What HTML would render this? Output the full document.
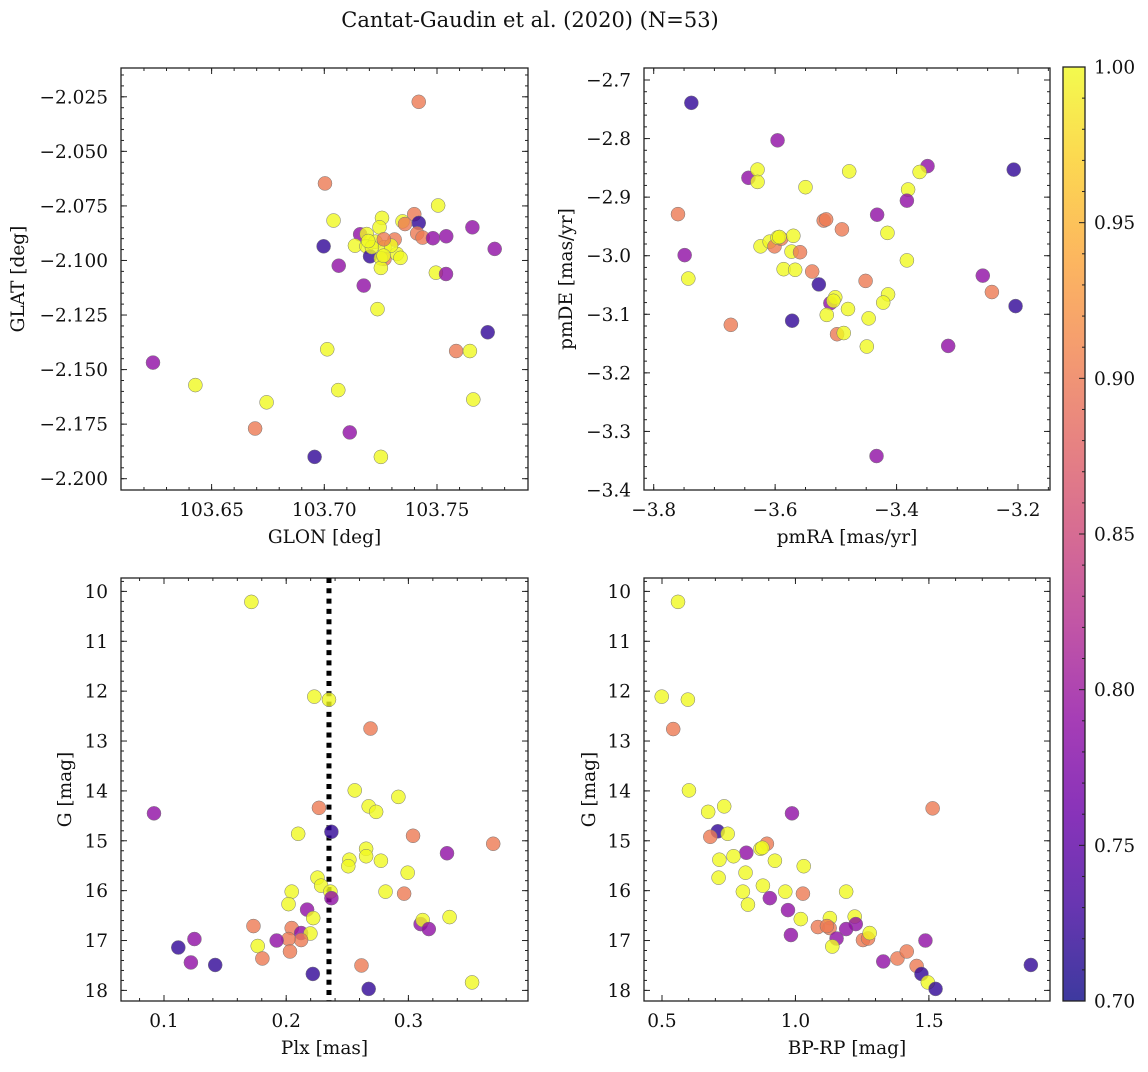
<!DOCTYPE html>
<html><head><meta charset="utf-8"><style>
html,body{margin:0;padding:0;background:#fff;}
svg text{font-family:"DejaVu Serif","Liberation Serif",serif;fill:#111;}
</style></head><body>
<svg id="fig" width="1148" height="1067" xmlns="http://www.w3.org/2000/svg">
<defs>
<linearGradient id="plasma" x1="0" y1="1" x2="0" y2="0">
<stop offset="0" stop-color="#0d0887"/><stop offset="0.1" stop-color="#41049d"/><stop offset="0.2" stop-color="#6a00a8"/><stop offset="0.3" stop-color="#8f0da4"/><stop offset="0.4" stop-color="#b12a90"/><stop offset="0.5" stop-color="#cc4778"/><stop offset="0.6" stop-color="#e16462"/><stop offset="0.7" stop-color="#f2844b"/><stop offset="0.8" stop-color="#fca636"/><stop offset="0.9" stop-color="#fcce25"/><stop offset="1" stop-color="#f0f921"/>
</linearGradient>
</defs>
<text x="530" y="27" font-size="21" text-anchor="middle">Cantat-Gaudin et al. (2020) (N=53)</text>
</svg>
<script>
// ---- data ----
const p1Lon=[103.7419,103.7003,103.7505,103.7041,103.7256,103.7245,103.7399,103.7419,103.7347,103.7358,103.7159,103.7188,103.7312,103.7412,103.7436,103.7482,103.7541,103.7657,103.7756,103.6997,103.7136,103.7187,103.7227,103.7267,103.7203,103.7267,103.7251,103.7251,103.7322,103.7338,103.7064,103.7175,103.7495,103.7540,103.7236,103.7725,103.7585,103.7646,103.7013,103.6240,103.6428,103.7062,103.6744,103.7661,103.6693,103.7113,103.6957,103.7251,103.7211,103.7296,103.7195,103.7263,103.7264];
const p1Lat=[-2.0273,-2.0647,-2.0748,-2.0817,-2.0805,-2.0848,-2.0788,-2.0828,-2.0821,-2.0833,-2.0880,-2.0879,-2.0904,-2.0876,-2.0895,-2.0898,-2.0889,-2.0848,-2.0947,-2.0935,-2.0932,-2.0935,-2.0914,-2.0939,-2.0981,-2.0993,-2.0990,-2.1034,-2.0970,-2.0988,-2.1024,-2.1115,-2.1056,-2.1062,-2.1223,-2.1329,-2.1415,-2.1415,-2.1407,-2.1468,-2.1571,-2.1594,-2.1650,-2.1637,-2.1770,-2.1788,-2.1900,-2.1900,-2.0939,-2.0932,-2.0911,-2.0978,-2.0903];
const p1Prob=[0.90,0.90,1.0,1.0,1.0,1.0,0.90,0.72,1.0,0.90,0.79,1.0,0.90,0.90,0.90,0.79,0.79,0.79,0.79,0.72,1.0,1.0,1.0,1.0,0.72,0.90,1.0,1.0,1.0,1.0,0.79,0.79,1.0,0.79,1.0,0.72,0.90,1.0,1.0,0.79,1.0,1.0,1.0,1.0,0.90,0.79,0.72,1.0,1.0,1.0,1.0,1.0,0.90];
const p2RA=[-3.738,-3.596,-3.644,-3.629,-3.629,-3.550,-3.478,-3.349,-3.362,-3.207,-3.381,-3.383,-3.432,-3.760,-3.520,-3.516,-3.490,-3.415,-3.624,-3.609,-3.601,-3.590,-3.596,-3.570,-3.573,-3.559,-3.749,-3.383,-3.743,-3.586,-3.567,-3.539,-3.528,-3.451,-3.258,-3.243,-3.204,-3.414,-3.422,-3.509,-3.501,-3.504,-3.480,-3.515,-3.446,-3.572,-3.673,-3.498,-3.487,-3.449,-3.315,-3.433,-3.593];
const p2DE=[-2.739,-2.803,-2.867,-2.853,-2.874,-2.883,-2.856,-2.847,-2.857,-2.853,-2.887,-2.906,-2.930,-2.929,-2.940,-2.938,-2.955,-2.961,-2.984,-2.976,-2.984,-2.971,-2.969,-2.966,-2.993,-2.994,-2.999,-3.008,-3.039,-3.023,-3.024,-3.027,-3.049,-3.043,-3.034,-3.062,-3.086,-3.066,-3.080,-3.081,-3.071,-3.077,-3.091,-3.101,-3.107,-3.111,-3.118,-3.134,-3.132,-3.155,-3.154,-3.342,-2.968];
const p2Prob=[0.72,0.79,0.79,1.0,1.0,1.0,1.0,0.79,1.0,0.72,1.0,0.79,0.79,0.90,0.90,0.90,0.90,1.0,1.0,1.0,0.90,0.90,1.0,1.0,1.0,0.90,0.79,1.0,1.0,1.0,1.0,0.90,0.72,0.90,0.79,0.90,0.72,1.0,1.0,0.79,1.0,1.0,1.0,1.0,1.0,0.72,0.90,0.90,1.0,1.0,0.79,0.79,1.0];
const p3Plx=[0.1715,0.2230,0.2350,0.2690,0.2561,0.2918,0.2675,0.2736,0.2268,0.0918,0.2370,0.2098,0.3038,0.3694,0.3316,0.2654,0.2654,0.2517,0.2508,0.2775,0.2994,0.2256,0.2286,0.2362,0.2370,0.2045,0.2813,0.2965,0.2019,0.2171,0.2221,0.3100,0.3117,0.3167,0.3337,0.1732,0.2045,0.2122,0.2198,0.2122,0.2019,0.1922,0.1767,0.1805,0.2031,0.1249,0.1117,0.1220,0.1419,0.2218,0.2616,0.2675,0.3521];
const p3G=[10.21,12.11,12.17,12.75,13.99,14.12,14.31,14.42,14.34,14.45,14.82,14.86,14.90,15.06,15.25,15.16,15.31,15.38,15.51,15.40,15.64,15.74,15.90,16.02,16.15,16.02,16.02,16.06,16.27,16.38,16.55,16.67,16.59,16.77,16.53,16.71,16.75,16.85,16.86,16.99,16.97,17.00,17.11,17.36,17.22,16.97,17.14,17.44,17.49,17.67,17.50,17.97,17.84];
const p3Prob=[1.0,1.0,1.0,0.90,1.0,1.0,1.0,1.0,0.90,0.79,0.72,1.0,0.90,0.90,0.79,1.0,1.0,1.0,1.0,1.0,1.0,1.0,1.0,1.0,0.79,1.0,1.0,0.90,1.0,0.79,1.0,0.79,1.0,0.79,1.0,0.90,0.90,0.79,1.0,0.90,0.90,0.79,1.0,0.90,0.90,0.79,0.72,0.79,0.72,0.72,0.90,0.72,1.0];
const p4BR=[0.560,0.499,0.597,0.542,0.601,0.733,0.673,0.987,1.514,0.709,0.681,0.746,0.893,0.869,0.816,0.715,0.768,0.923,1.031,0.813,0.712,0.878,0.803,0.962,1.028,1.190,0.904,0.822,0.972,1.020,1.129,1.222,1.226,1.084,1.128,1.190,1.154,0.983,1.138,1.253,1.272,1.278,1.487,1.329,1.382,1.417,1.454,1.472,1.496,1.525,1.882,0.876,1.118];
const p4G=[10.21,12.11,12.17,12.76,13.99,14.31,14.42,14.45,14.35,14.81,14.92,14.86,15.06,15.16,15.24,15.38,15.31,15.40,15.51,15.64,15.74,15.90,16.02,16.02,16.06,16.02,16.15,16.28,16.39,16.57,16.55,16.52,16.67,16.73,16.75,16.77,16.96,16.89,17.12,16.99,16.96,16.85,17.00,17.42,17.36,17.22,17.51,17.67,17.84,17.97,17.49,15.14,16.71];
const p4Prob=[1.0,1.0,1.0,0.90,1.0,1.0,1.0,0.79,0.90,0.72,0.90,1.0,0.90,1.0,0.79,1.0,1.0,1.0,1.0,1.0,1.0,1.0,1.0,1.0,0.90,1.0,0.79,1.0,0.79,1.0,1.0,1.0,0.79,0.90,0.90,0.79,0.79,0.79,1.0,0.90,0.90,1.0,0.79,0.79,0.90,0.90,0.90,0.72,1.0,0.72,0.72,1.0,0.90];
const plxCut=0.235;

const NS="http://www.w3.org/2000/svg";
const svg=document.getElementById('fig');
function mk(tag,attrs,parent){const e=document.createElementNS(NS,tag);for(const k in attrs)e.setAttribute(k,attrs[k]);(parent||svg).appendChild(e);return e;}
const stops=[[0,'#0d0887'],[0.1,'#41049d'],[0.2,'#6a00a8'],[0.3,'#8f0da4'],[0.4,'#b12a90'],[0.5,'#cc4778'],[0.6,'#e16462'],[0.7,'#f2844b'],[0.8,'#fca636'],[0.9,'#fcce25'],[1,'#f0f921']];
function hx(c){return[1,3,5].map(i=>parseInt(c.substr(i,2),16));}
function plasma(t){t=Math.max(0,Math.min(1,t));for(let i=1;i<stops.length;i++){if(t<=stops[i][0]){const a=stops[i-1],b=stops[i];const f=(t-a[0])/(b[0]-a[0]);const ca=hx(a[1]),cb=hx(b[1]);return 'rgb('+ca.map((v,j)=>Math.round(v+(cb[j]-v)*f)).join(',')+')';}}return stops[stops.length-1][1];}
function fmt(v,d){const s=Math.abs(v).toFixed(d);return (v<-1e-9?'\u2212':'')+s;}
const FS=18.5;

function panel(o){
  const g=mk('g',{});
  
  
  const sx=v=>o.x0+(v-o.xa)*(o.x1-o.x0)/(o.xb-o.xa);
  const sy=v=>o.y0+(v-o.ya)*(o.y1-o.y0)/(o.yb-o.ya);
  const L=o.box[0],T=o.box[1],R=o.box[2],B=o.box[3];
  function ticksX(step,len,labels,d){
    const vL=o.xa+(L-2-o.x0)*(o.xb-o.xa)/(o.x1-o.x0), vR=o.xa+(R+2-o.x0)*(o.xb-o.xa)/(o.x1-o.x0);
    for(let k=Math.ceil(Math.min(vL,vR)/step-1e-6);k*step<=Math.max(vL,vR)+1e-9;k++){
      const v=k*step,x=sx(v);
      if(x>L+1&&x<R-1){
        mk('line',{x1:x,y1:B,x2:x,y2:B-len,stroke:'#222','stroke-width':1},g);
        mk('line',{x1:x,y1:T,x2:x,y2:T+len,stroke:'#222','stroke-width':1},g);
      }
      if(labels){const t=mk('text',{x:x,y:B+26,'font-size':FS,'text-anchor':'middle'},g);t.textContent=fmt(v,d);
        
        }
    }
  }
  function ticksY(step,len,labels,d){
    const vT=o.ya+(T-2-o.y0)*(o.yb-o.ya)/(o.y1-o.y0), vB=o.ya+(B+2-o.y0)*(o.yb-o.ya)/(o.y1-o.y0);
    for(let k=Math.ceil(Math.min(vT,vB)/step-1e-6);k*step<=Math.max(vT,vB)+1e-9;k++){
      const v=k*step,y=sy(v);
      if(y>T+1&&y<B-1){
        mk('line',{x1:L,y1:y,x2:L+len,y2:y,stroke:'#222','stroke-width':1},g);
        mk('line',{x1:R,y1:y,x2:R-len,y2:y,stroke:'#222','stroke-width':1},g);
      }
      if(labels){const t=mk('text',{x:L-13,y:y+6.5,'font-size':FS,'text-anchor':'end'},g);t.textContent=fmt(v,d);
        
        }
    }
  }
  ticksX(o.xmaj,6,true,o.xd);ticksX(o.xmin,3,false);
  ticksY(o.ymaj,6,true,o.yd);ticksY(o.ymin,3,false);
  const fr=mk('rect',{x:L,y:T,width:R-L,height:B-T,fill:'none',stroke:'#222','stroke-width':1.3},g);
  
  
  const xl=mk('text',{x:(L+R)/2,y:B+53,'font-size':FS,'text-anchor':'middle'},g);xl.textContent=o.xlabel;
  
  
  const yx=o.ylx, yy=(T+B)/2;
  const yl=mk('text',{x:yx,y:yy,'font-size':FS,'text-anchor':'middle',transform:'rotate(-90 '+yx+' '+yy+')'},g);yl.textContent=o.ylabel;
  
  
  if(o.vline!==undefined){const vl=mk('line',{x1:sx(o.vline),y1:T,x2:sx(o.vline),y2:B,stroke:'#000','stroke-width':5,'stroke-dasharray':'5 5.3'},g);
    
    }
  for(let i=0;i<o.xs.length;i++){
    const c=mk('circle',{cx:sx(o.xs[i]),cy:sy(o.ys[i]),r:7,fill:plasma((o.ps[i]-0.7)/0.3),'fill-opacity':0.8,stroke:'#777','stroke-width':0.5},g);
    
    
  }
}
panel({name:'panel-glon-glat',box:[121,68,528,490],xa:103.65,xb:103.70,x0:211.6,x1:324.3,ya:-2.025,yb:-2.2,y0:96.8,y1:478.7,xmaj:0.05,xmin:0.01,ymaj:0.025,ymin:0.005,xd:2,yd:3,xlabel:'GLON [deg]',ylabel:'GLAT [deg]',ylx:24,xs:p1Lon,ys:p1Lat,ps:p1Prob});
panel({name:'panel-proper-motion',box:[644,68,1050,490],xa:-3.8,xb:-3.2,x0:653.7,x1:1018,ya:-2.7,yb:-3.4,y0:80,y1:490,xmaj:0.2,xmin:0.05,ymaj:0.1,ymin:0.02,xd:1,yd:1,xlabel:'pmRA [mas/yr]',ylabel:'pmDE [mas/yr]',ylx:572,xs:p2RA,ys:p2DE,ps:p2Prob});
panel({name:'panel-plx-g',box:[121,578,528,1001],xa:0.1,xb:0.3,x0:164,x1:408.4,ya:10,yb:18,y0:591.4,y1:990.4,xmaj:0.1,xmin:0.02,ymaj:1,ymin:0.2,xd:1,yd:0,xlabel:'Plx [mas]',ylabel:'G [mag]',ylx:71,xs:p3Plx,ys:p3G,ps:p3Prob,vline:plxCut});
panel({name:'panel-cmd',box:[644,578,1050,1001],xa:0.5,xb:1.5,x0:662,x1:928.9,ya:10,yb:18,y0:591.4,y1:990.4,xmaj:0.5,xmin:0.1,ymaj:1,ymin:0.2,xd:1,yd:0,xlabel:'BP-RP [mag]',ylabel:'G [mag]',ylx:595,xs:p4BR,ys:p4G,ps:p4Prob});
// colorbar
const cb=mk('g',{});


mk('rect',{x:1063,y:67,width:22,height:934,fill:'url(#plasma)','fill-opacity':0.8},cb);
mk('rect',{x:1063,y:67,width:22,height:934,fill:'none',stroke:'#222','stroke-width':1.3},cb);
const cy=v=>1001-(v-0.7)*934/0.3;
for(let k=70;k<=100;k++){const v=k/100,y=cy(v),maj=k%5===0;
  mk('line',{x1:1085,y1:y,x2:1085-(maj?6:3),y2:y,stroke:'#222','stroke-width':1},cb);
  if(maj){const t=mk('text',{x:1094,y:y+6.5,'font-size':FS},cb);t.textContent=v.toFixed(2);
    
    }
}
</script>
</body></html>
